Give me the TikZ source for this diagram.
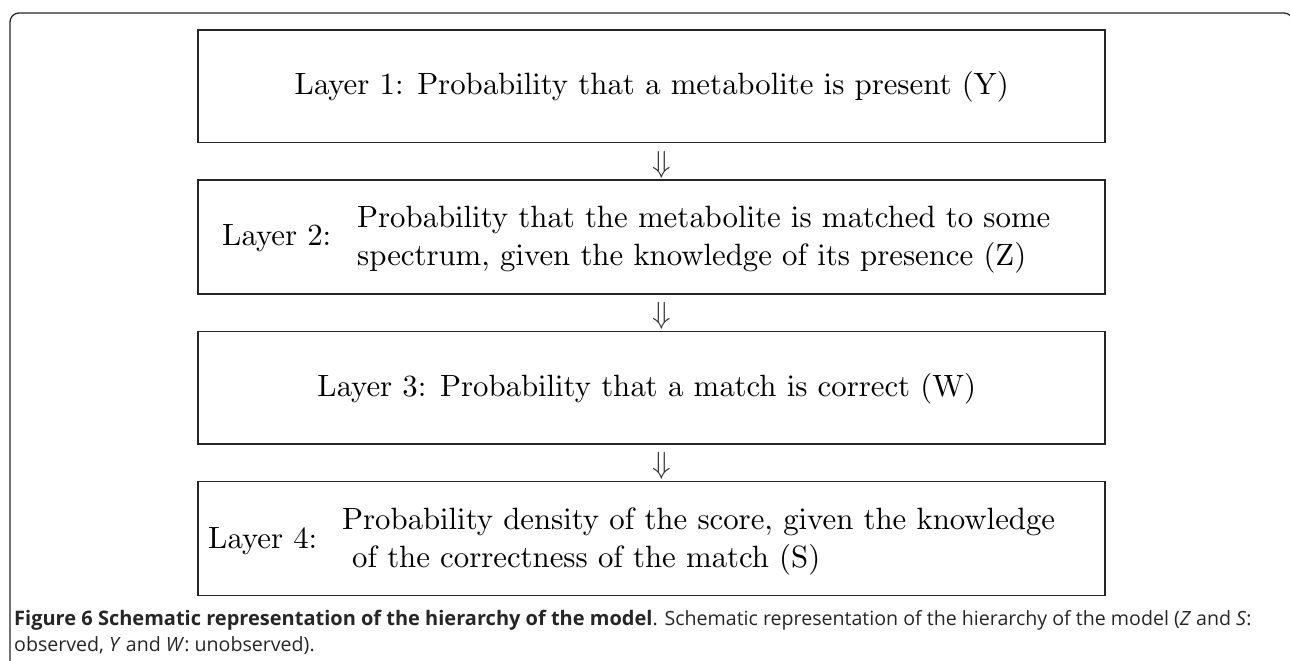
\documentclass[tikz,border=0pt]{standalone}
\usepackage{fontspec}
\newfontfamily\capfont{Open Sans}
\font\lay=cmr10 at 30.8pt
\font\laysy=cmsy10 at 30.5pt
\begin{document}
\begin{tikzpicture}[x=1pt,y=-1pt,
  layerbox/.style={draw=black!85,line width=1.6pt,inner sep=0pt},
  ltext/.style={inner sep=0pt,font=\lay,text=black},
  darrow/.style={inner sep=0pt,font=\laysy,text=black!80},
  captext/.style={inner sep=0pt,anchor=base west,font=\capfont\fontsize{19.6}{26}\selectfont,text=black!85}]
\useasboundingbox (0,0) rectangle (1290,661);
% outer frame
\draw[line width=1.3pt,black!85,rounded corners=9pt] (10,670) -- (10,13) -- (1293,13) -- (1293,670);
% boxes
\node[layerbox,minimum width=907pt,minimum height=112.5pt] (b1) at (651.5,86.25) {};
\node[layerbox,minimum width=907pt,minimum height=114pt] (b2) at (651.5,237) {};
\node[layerbox,minimum width=907pt,minimum height=112.5pt] (b3) at (651.5,387.75) {};
\node[layerbox,minimum width=907pt,minimum height=114pt] (b4) at (651.5,538.5) {};
% texts
\node[ltext,anchor=base] (t1) at (652,95) {Layer 1: Probability that a metabolite is present (Y)};
\node[ltext,anchor=base west] (t2a) at (222,245) {Layer 2:};
\node[ltext,anchor=base west] (t2b) at (357,227) {Probability that the metabolite is matched to some};
\node[ltext,anchor=base west] (t2c) at (357,265) {spectrum, given the knowledge of its presence (Z)};
\node[ltext,anchor=base] (t3) at (647,396) {Layer 3: Probability that a match is correct (W)};
\node[ltext,anchor=base west] (t4a) at (208,548) {Layer 4:};
\node[ltext,anchor=base west] (t4b) at (342,529) {Probability density of the score, given the knowledge};
\node[ltext,anchor=base west] (t4c) at (352,567) {of the correctness of the match (S)};
% arrows
\node[darrow,anchor=base] (a1) at (662,172) {\char"2B};
\node[darrow,anchor=base] (a2) at (662,323) {\char"2B};
\node[darrow,anchor=base] (a3) at (662,473) {\char"2B};
% caption
\node[captext] (c1) at (14,625) {{\fontsize{20}{26}\selectfont\textbf{Figure 6 Schematic representation of the hierarchy of the model}}. Schematic representation of the hierarchy of the model (\textit{Z} and \textit{S}:};
\node[captext] (c2) at (14,651) {observed, \textit{Y} and \textit{W}: unobserved).};
\end{tikzpicture}
\end{document}
